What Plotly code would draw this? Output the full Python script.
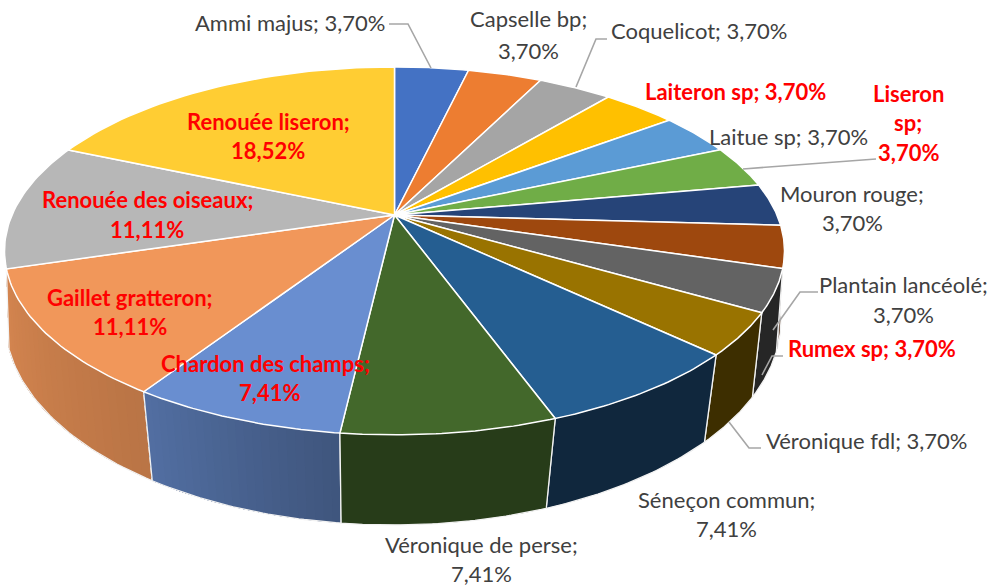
import numpy as np
import plotly.graph_objects as go

categories = ["Ammi majus", "Capselle bp", "Coquelicot", "Laiteron sp", "Laitue sp", "Liseron sp",
              "Mouron rouge", "Plantain lancéolé", "Rumex sp", "Véronique fdl", "Séneçon commun",
              "Véronique de perse", "Chardon des champs", "Gaillet gratteron",
              "Renouée des oiseaux", "Renouée liseron"]
values = [3.70, 3.70, 3.70, 3.70, 3.70, 3.70, 3.70, 3.70, 3.70, 3.70, 7.41, 7.41, 7.41, 11.11, 11.11, 18.52]
colors = ["#4472C4", "#ED7D31", "#A5A5A5", "#FFC000", "#5B9BD5", "#70AD47", "#264478", "#9E480E",
          "#636363", "#997300", "#255E91", "#43682B", "#698ED0", "#F1975A", "#B7B7B7", "#FFCD33"]
wall_shade = {7: (.40, .40), 8: (.38, .38), 9: (.40, .40), 10: (.42, .42), 11: (.58, .58),
              12: (.60, .78), 13: (.77, .88)}

# index of category -> text lines with centre position and red flag
label_layout = {
    0: ([(290, 22)], False, True),
    1: ([(528, 18), (528, 50)], False, False),
    2: ([(699, 30)], False, True),
    3: ([(735, 91)], True, True),
    4: ([(788, 136)], False, True),
    5: ([(908, 93), (908, 122), (908, 152)], True, False),
    6: ([(852, 193), (852, 222)], False, False),
    7: ([(903, 284), (903, 314)], False, False),
    8: ([(872, 348)], True, True),
    9: ([(866, 440)], False, True),
    10: ([(726, 499), (726, 528)], False, False),
    11: ([(481, 544), (481, 573)], False, False),
    12: ([(265, 363), (269, 392)], True, False),
    13: ([(130, 297), (130, 326)], True, False),
    14: ([(147, 199), (147, 229)], True, False),
    15: ([(268, 121), (268, 150)], True, False),
}
leaders = [
    [(389, 24), (408, 24), (431, 68)],
    [(607, 39), (596, 39), (576, 87)],
    [(876, 159), (862, 160), (743, 169)],
    [(818, 292), (800, 292), (773, 330)],
    [(783, 356), (772, 356), (762, 375)],
    [(761, 448), (749, 448), (729, 422)],
]

K_TOP = 0.195
K_LOW = 0.15


def top(t):
    X, Y = np.sin(t), np.cos(t)
    s = 1 / (1 + K_TOP * Y)
    return 394.5 + 382.5 * X * s, 215 - 177 * Y * s


def low(t):
    X, Y = np.sin(t), np.cos(t)
    s = 1 / (1 + K_LOW * Y)
    return 393 + 383.6 * X * s, 289.2 - 200.4 * Y * s


def pct(v):
    return f"{v:.2f}".replace(".", ",") + "%"


fracs = np.cumsum([0] + values) / sum(values) * 2 * np.pi
fig = go.Figure()


def poly(x, y, fill, line="rgba(0,0,0,0)", w=0):
    fig.add_trace(go.Scatter(x=list(x), y=list(y), mode="lines", fill="toself", fillcolor=fill,
                             line=dict(color=line, width=w), hoverinfo="skip", showlegend=False))


def shade(c, f):
    r, g, b = int(c[1:3], 16), int(c[3:5], 16), int(c[5:7], 16)
    return f"rgb({r * f:.0f},{g * f:.0f},{b * f:.0f})"


# side walls (back to front); each facet overlaps the next to avoid seams
for i in [13, 7, 8, 9, 10, 12, 11]:
    a, b = fracs[i], fracs[i + 1]
    f0, f1 = wall_shade[i]
    n = 24 if f0 != f1 else 1
    edges = np.linspace(a, b, n + 1)
    for j in range(n):
        t = np.linspace(edges[j], b, 40)
        xt, yt = top(t)
        xl, yl = low(t)
        poly(np.r_[xt, xl[::-1]], np.r_[yt, yl[::-1]], shade(colors[i], f0 + (f1 - f0) * (j + .5) / n))
    t = np.linspace(a, b, 40)
    xl, yl = low(t)
    xa, ya = top(np.array([a]))
    xb, yb = top(np.array([b]))
    fig.add_trace(go.Scatter(x=np.r_[xa, xl, xb], y=np.r_[ya, yl, yb], mode="lines",
                             line=dict(color="#F2F2F2", width=1.3), hoverinfo="skip", showlegend=False))

# top slices
for i in range(len(values)):
    t = np.linspace(fracs[i], fracs[i + 1], 40)
    x, y = top(t)
    poly(np.r_[394.5, x, 394.5], np.r_[215, y, 215], colors[i], "#FFFFFF", 1.5)

# leader lines
for pts in leaders:
    fig.add_trace(go.Scatter(x=[p[0] for p in pts], y=[p[1] for p in pts], mode="lines",
                             line=dict(color="#A6A6A6", width=1.6), hoverinfo="skip", showlegend=False))

# labels
ann = []
for i, (pos, red, single) in label_layout.items():
    name, val = categories[i], pct(values[i])
    if single:
        lines = [f"{name}; {val}"]
    elif len(pos) == 3:
        first, second = name.split(" ")
        lines = [first, second + ";", val]
    else:
        lines = [name + ";", val]
    for (x, y), s in zip(pos, lines):
        ann.append(dict(x=x, y=y, text=f"<b>{s}</b>" if red else s, showarrow=False,
                        xanchor="center", yanchor="middle",
                        font=dict(family="Lato", size=22, color="#FF0000" if red else "#404040")))

fig.update_layout(width=991, height=587, margin=dict(l=0, r=0, t=0, b=0),
                  paper_bgcolor="white", plot_bgcolor="white", showlegend=False,
                  annotations=ann,
                  xaxis=dict(range=[0, 991], visible=False, fixedrange=True),
                  yaxis=dict(range=[587, 0], visible=False, fixedrange=True))
fig.write_html("out.html", config=dict(displayModeBar=False),
               post_script="document.body.style.margin='0';document.body.style.overflow='hidden';")
